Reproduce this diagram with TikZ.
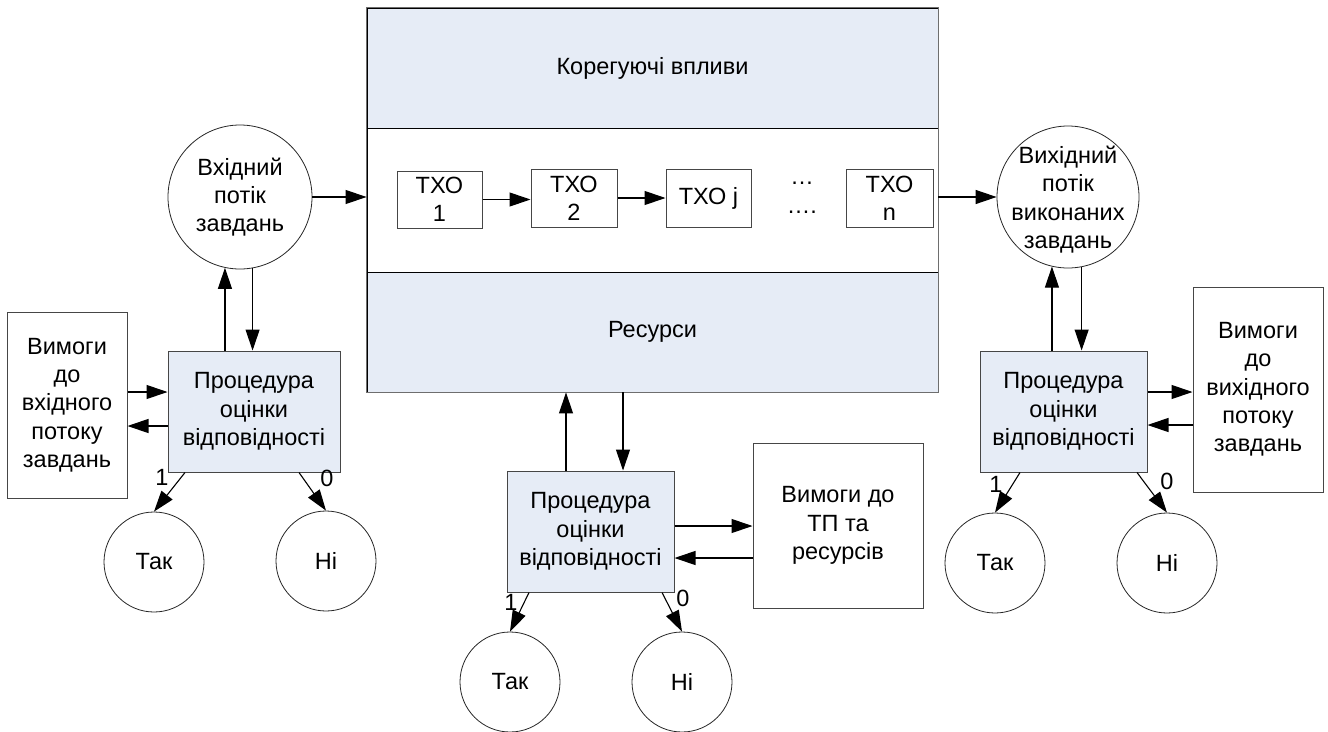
\documentclass[tikz,border=0pt]{standalone}
\usepackage{fontspec}
\setmainfont{Liberation Sans}
\usetikzlibrary{arrows.meta}
\definecolor{bandblue}{RGB}{230,236,246}
\definecolor{edgegray}{RGB}{70,70,70}
\definecolor{framegray}{RGB}{110,110,110}

\begin{document}
\begin{tikzpicture}[x=1pt,y=-1pt,
  every node/.style={font=\fontsize{23.5}{28.3}\selectfont, inner sep=0pt, align=center},
  band/.style={rectangle, draw=black, line width=0.9pt, fill=bandblue, minimum width=571pt},
  procbox/.style={rectangle, draw=edgegray, line width=1pt, fill=bandblue},
  reqbox/.style={rectangle, draw=edgegray, line width=1pt, fill=white},
  txobox/.style={rectangle, draw=edgegray, line width=1pt, fill=white, minimum height=58pt},
  circnode/.style={circle, draw=black!85, line width=0.8pt, fill=white},
  arr/.style={-{Triangle[length=21pt,width=14pt]}, line width=1.1pt, black},
  digit/.style={}]

\useasboundingbox (0,0) rectangle (1328,731);

% central block: corrective actions / operations / resources
\node[band, minimum height=120pt] (top) at (652.5,68) {Корегуючі впливи};
\node[band, fill=white, minimum height=144pt] (mid) at (652.5,200) {};
\node[band, minimum height=120pt] (bot) at (652.5,332) {Ресурси};
\draw[framegray, line width=1.6pt] (top.north west) rectangle (bot.south east);

% chain of technological operations
\node[txobox, minimum width=85pt, minimum height=57pt] (t1) at (439.5,199.5) {ТХО\\1};
\node[txobox, minimum width=86pt] (t2) at (574,198) {ТХО\\2};
\node[txobox, minimum width=85pt] (tj) at (708.5,198) {ТХО j};
\node[anchor=base] (dtop) at (802,184.5) {…};
\node[anchor=base] (dbot) at (802,213.5) {….};
\node[txobox, minimum width=87pt] (tn) at (889.5,198) {ТХО\\n};

% input and output flows
\node[circnode, minimum size=144pt] (inc) at (240,197) {Вхідний\\потік\\завдань};
\node[circnode, minimum size=142pt] (outc) at (1068,197) {};
\node (outcT) at (1068,199.5) {Вихідний\\потік\\виконаних\\завдань};

% left: input check
\node[procbox, minimum width=172pt, minimum height=121pt] (lproc) at (254,411.5) {Процедура\\оцінки\\відповідності};
\node[reqbox, minimum width=120pt, minimum height=186pt] (lreq) at (67,405) {Вимоги\\до\\вхідного\\потоку\\завдань};
\node[circnode, minimum size=100pt] (lyes) at (154,562) {Так};
\node[circnode, minimum size=100pt] (lno) at (326,561) {Ні};

% middle: process and resources check
\node[procbox, minimum width=167pt, minimum height=121pt] (mproc) at (590.5,531.5) {Процедура\\оцінки\\відповідності};
\node[reqbox, minimum width=170pt, minimum height=165pt] (mreq) at (838,525.5) {Вимоги до\\ТП та\\ресурсів};
\node[circnode, minimum size=100pt] (myes) at (510,682) {Так};
\node[circnode, minimum size=100pt] (mno) at (682,682) {Ні};

% right: output check
\node[procbox, minimum width=167pt, minimum height=121pt] (rproc) at (1063.5,411.5) {Процедура\\оцінки\\відповідності};
\node[reqbox, minimum width=130pt, minimum height=205pt] (rreq) at (1258,389.5) {Вимоги\\до\\вихідного\\потоку\\завдань};
\node[circnode, minimum size=100pt] (ryes) at (995,563) {Так};
\node[circnode, minimum size=100pt] (rno) at (1167,563) {Ні};

% flow through the block
\draw[arr] (inc) -- (inc -| mid.west);
\draw[arr] (t1.east) -- (t1.east -| t2.west);
\draw[arr] (t2.east) -- (t2.east -| tj.west);
\draw[arr] (outc -| mid.east) -- (outc);

% exchanges with the flows
\draw[arr] (lproc.north -| inc.-102) -- (inc.-102);
\draw[arr] (inc.-80) -- (inc.-80 |- lproc.north);
\draw[arr] (rproc.north -| outc.-103) -- (outc.-103);
\draw[arr] (outc.-79) -- (outc.-79 |- rproc.north);

\coordinate (mup) at ([xshift=-24.5pt]mproc.north);
\coordinate (mdn) at ([xshift=32.5pt]mproc.north);
\draw[arr] (mup) -- (mup |- bot.south);
\draw[arr] (mdn |- bot.south) -- (mdn);

% exchanges with the requirements
\coordinate (la) at ([yshift=19.5pt]lproc.west);
\coordinate (lb) at ([yshift=-14.5pt]lproc.west);
\draw[arr] (la -| lreq.east) -- (la);
\draw[arr] (lb) -- (lb -| lreq.east);

\coordinate (ma) at ([yshift=5.5pt]mproc.east);
\coordinate (mb) at ([yshift=-26.5pt]mproc.east);
\draw[arr] (ma) -- (ma -| mreq.west);
\draw[arr] (mb -| mreq.west) -- (mb);

\coordinate (ra) at ([yshift=19.5pt]rproc.east);
\coordinate (rb) at ([yshift=-13.5pt]rproc.east);
\draw[arr] (ra) -- (ra -| rreq.west);
\draw[arr] (rb -| rreq.west) -- (rb);

% decisions
\draw[arr] ([xshift=-69pt]lproc.south) -- (lyes.north);
\draw[arr] ([xshift=45pt]lproc.south) -- (lno.north);
\draw[arr] ([xshift=-61.5pt]mproc.south) -- (myes.north);
\draw[arr] ([xshift=71.5pt]mproc.south) -- (mno.north);
\draw[arr] ([xshift=-43.5pt]rproc.south) -- (ryes.north);
\draw[arr] ([xshift=73.5pt]rproc.south) -- (rno.north);

\node[digit] (l1) at (162,477) {1};
\node[digit] (l0) at (327,478) {0};
\node[digit] (m1) at (511,602) {1};
\node[digit] (m0) at (683,598) {0};
\node[digit] (r1) at (996,484) {1};
\node[digit] (r0) at (1167,481) {0};
\end{tikzpicture}
\end{document}
